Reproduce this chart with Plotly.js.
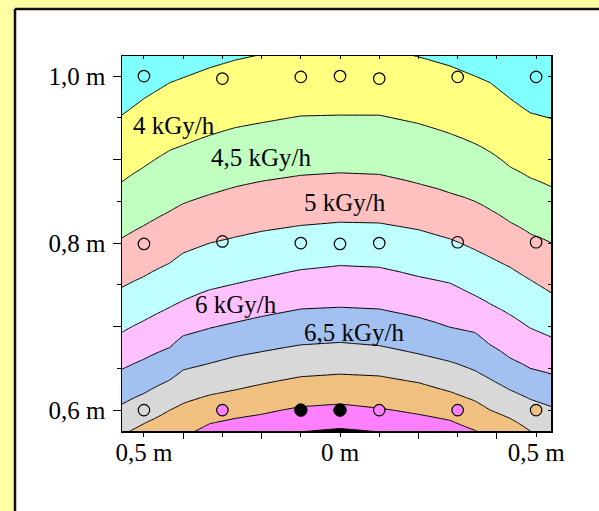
<!DOCTYPE html>
<html><head><meta charset="utf-8">
<script src="https://cdn.plot.ly/plotly-3.0.1.min.js"></script>
<style>html,body{margin:0;padding:0;background:#FFFFA6;}#chart{width:599px;height:511px;}</style>
</head><body><div id="chart"></div>
<script>
const xCols = [-0.56, -0.5, -0.434, -0.4, -0.332, -0.268, -0.2, -0.1, 0, 0.1, 0.2, 0.281, 0.344, 0.383, 0.434, 0.485, 0.54];
// Dose-rate contour levels (kGy/h)
const doseLevels = [4, 4.5, 5, 5.5, 6, 6.5, 7, 7.5, 8, 8.5];
// Height (m) of each contour line at each column
const c40 = [0.952, 0.973, 0.992, 0.998, 1.010, 1.019, 1.026, 1.035, 1.038, 1.035, 1.023, 1.012, 1.000, 0.992, 0.973, 0.956, 0.949];
const c45 = [0.872, 0.891, 0.911, 0.917, 0.929, 0.938, 0.944, 0.952, 0.953, 0.953, 0.943, 0.931, 0.919, 0.909, 0.891, 0.878, 0.867];
const c50 = [0.805, 0.821, 0.838, 0.847, 0.858, 0.867, 0.874, 0.881, 0.884, 0.882, 0.871, 0.860, 0.850, 0.840, 0.825, 0.811, 0.800];
const c55 = [0.746, 0.760, 0.776, 0.788, 0.800, 0.807, 0.814, 0.821, 0.825, 0.824, 0.816, 0.805, 0.792, 0.783, 0.771, 0.756, 0.740];
const c60 = [0.692, 0.707, 0.723, 0.731, 0.744, 0.751, 0.758, 0.768, 0.773, 0.771, 0.760, 0.752, 0.737, 0.727, 0.714, 0.698, 0.687];
const c65 = [0.648, 0.661, 0.675, 0.689, 0.698, 0.705, 0.712, 0.721, 0.723, 0.721, 0.711, 0.699, 0.693, 0.678, 0.662, 0.650, 0.643];
const c70 = [0.606, 0.620, 0.636, 0.648, 0.656, 0.664, 0.670, 0.678, 0.681, 0.677, 0.667, 0.658, 0.647, 0.637, 0.624, 0.613, 0.604];
const c75 = [0.570, 0.584, 0.600, 0.608, 0.618, 0.624, 0.631, 0.640, 0.643, 0.641, 0.633, 0.622, 0.611, 0.600, 0.590, 0.575, 0.558];
const c80 = [0.528, 0.540, 0.557, 0.568, 0.584, 0.590, 0.595, 0.604, 0.607, 0.602, 0.595, 0.588, 0.576, 0.568, 0.557, 0.546, 0.534];
const c85 = [0.492, 0.504, 0.516, 0.528, 0.540, 0.550, 0.558, 0.574, 0.578, 0.574, 0.558, 0.546, 0.534, 0.528, 0.516, 0.504, 0.492];
const crossings = [c40, c45, c50, c55, c60, c65, c70, c75, c80, c85];

// Measurement points
const openX = [-0.5, -0.3, -0.1, 0, 0.1, 0.3, 0.5, -0.5, -0.3, -0.1, 0, 0.1, 0.3, 0.5, -0.5];
const openY = [1.0, 0.997, 0.999, 1.0, 0.997, 0.999, 0.999, 0.799, 0.802, 0.8, 0.799, 0.8, 0.801, 0.801, 0.6];
const magentaX = [-0.3, 0.1, 0.3];
const magentaY = [0.6, 0.6, 0.6];
const orangeX = [0.5];
const orangeY = [0.6];
const blackX = [-0.1, 0];
const blackY = [0.6, 0.6];

// Band labels
const labelText = ['4 kGy/h', '4,5 kGy/h', '5 kGy/h', '6 kGy/h', '6,5 kGy/h'];
const labelX = [-0.423, -0.199, 0.013, -0.265, 0.036];
const labelY = [0.941, 0.903, 0.848, 0.726, 0.693];

// Tick labels
const xTickVals = [-0.5, -0.4, -0.3, -0.2, -0.1, 0, 0.1, 0.2, 0.3, 0.4, 0.5];
const xTickText = ['0,5 m', '', '', '', '', '0 m', '', '', '', '', '0,5 m'];
const yTickVals = [0.6, 0.7, 0.8, 0.9, 1.0];
const yTickText = ['0,6 m', '', '0,8 m', '', '1,0 m'];
const yMinorVals = [0.65, 0.75, 0.85, 0.95];
const yAllVals = [0.6, 0.65, 0.7, 0.75, 0.8, 0.85, 0.9, 0.95, 1.0];

// Band colours (below 4 ... above 8.5)
const bandColors = ['#80FFFF', '#FFFF80', '#C0FFC0', '#FFC0C0', '#C0FFFF', '#FFC0FF', '#A2C0F0', '#D8D8D8', '#F0C080', '#FF80FF', '#000000'];

// Build the z table for the contour trace from the read contour heights
const yGrid = [];
for (let i = 0; i <= 126; i++) yGrid.push(+(0.45 + i * 0.005).toFixed(3));
const z = yGrid.map(y => xCols.map((_, j) => {
  const Y = crossings.map(c => c[j]);
  const n = Y.length;
  if (y >= Y[0]) return doseLevels[0] - 0.5 * (y - Y[0]) / (Y[0] - Y[1]);
  if (y <= Y[n - 1]) return doseLevels[n - 1] + 0.5 * (Y[n - 1] - y) / (Y[n - 2] - Y[n - 1]);
  for (let k = 0; k < n - 1; k++) {
    if (y <= Y[k] && y >= Y[k + 1]) return doseLevels[k] + 0.5 * (Y[k] - y) / (Y[k] - Y[k + 1]);
  }
  return doseLevels[0];
}));

const N = bandColors.length - 1;
const colorscale = [];
bandColors.forEach((c, k) => {
  colorscale.push([Math.max(0, (k - 0.5) / N), c]);
  colorscale.push([Math.min(1, (k + 0.5) / N), c]);
});

const FONT = '"Liberation Serif", "Times New Roman", serif';
const FS = 25;

const traces = [
  {
    type: 'contour', x: xCols, y: yGrid, z: z,
    autocontour: false,
    contours: {start: 4, end: 8.5, size: 0.5, coloring: 'fill', showlines: true},
    line: {color: '#000', width: 1, smoothing: 0},
    colorscale: colorscale, showscale: false, hoverinfo: 'skip'
  },
  {type: 'scatter', mode: 'markers', x: openX, y: openY, hoverinfo: 'skip', showlegend: false,
   marker: {symbol: 'circle', size: 11.5, color: 'rgba(0,0,0,0)', line: {color: '#000', width: 1.2}}},
  {type: 'scatter', mode: 'markers', x: magentaX, y: magentaY, hoverinfo: 'skip', showlegend: false,
   marker: {symbol: 'circle', size: 11.5, color: '#FF80FF', line: {color: '#000', width: 1.2}}},
  {type: 'scatter', mode: 'markers', x: orangeX, y: orangeY, hoverinfo: 'skip', showlegend: false,
   marker: {symbol: 'circle', size: 11.5, color: '#F0C080', line: {color: '#000', width: 1.2}}},
  {type: 'scatter', mode: 'markers', x: blackX, y: blackY, hoverinfo: 'skip', showlegend: false,
   marker: {symbol: 'circle', size: 12.5, color: '#000', line: {color: '#000', width: 1}}},
  {type: 'scatter', mode: 'markers', x: [null], y: [null], xaxis: 'x2', yaxis: 'y2', hoverinfo: 'skip', showlegend: false},
  {type: 'scatter', mode: 'markers', x: [null], y: [null], xaxis: 'x3', yaxis: 'y', hoverinfo: 'skip', showlegend: false}
];

const xr = [-0.556, 0.538], yr = [0.575, 1.024];
const annotations = labelText.map((t, i) => ({
  text: t, x: labelX[i], y: labelY[i], xref: 'x', yref: 'y', showarrow: false,
  xanchor: 'center', yanchor: 'middle', font: {family: FONT, size: FS, color: '#000'}
}));

const px2x = p => (p - 122) / 429, py2y = p => (431 - p) / 375;

const layout = {
  width: 599, height: 511,
  margin: {l: 122, r: 48, t: 56, b: 80, pad: 0},
  paper_bgcolor: '#FFFFA6', plot_bgcolor: '#FFFFFF',
  showlegend: false,
  font: {family: FONT, size: FS, color: '#000'},
  xaxis: {range: xr, tickmode: 'array', tickvals: xTickVals, ticktext: xTickText,
    ticks: 'outside', ticklen: 4, tickwidth: 1, tickcolor: '#000',
    showline: true, linecolor: '#000', linewidth: 1.5, mirror: true,
    showgrid: false, zeroline: false, fixedrange: true, ticklabelstandoff: -6,
    tickfont: {family: FONT, size: FS, color: '#000'}},
  xaxis2: {overlaying: 'x', side: 'top', anchor: 'y', range: xr, matches: 'x',
    tickmode: 'array', tickvals: xTickVals, ticks: 'inside', ticklen: 3, tickcolor: '#000',
    showticklabels: false, showgrid: false, zeroline: false, showline: false, fixedrange: true},
  xaxis3: {overlaying: 'x', side: 'bottom', anchor: 'y', range: xr, matches: 'x',
    tickmode: 'array', tickvals: [-0.4, -0.2, 0.2, 0.4], ticks: 'outside', ticklen: 7, tickcolor: '#000',
    showticklabels: false, showgrid: false, zeroline: false, showline: false, fixedrange: true},
  yaxis: {range: yr, tickmode: 'array', tickvals: yTickVals, ticktext: yTickText,
    ticks: 'outside', ticklen: 8, tickwidth: 1, tickcolor: '#000',
    minor: {tickmode: 'array', tickvals: yMinorVals, ticks: 'outside', ticklen: 4, tickcolor: '#000', showgrid: false},
    showline: true, linecolor: '#000', linewidth: 1.5, mirror: true,
    showgrid: false, zeroline: false, fixedrange: true, ticklabelstandoff: 2,
    tickfont: {family: FONT, size: FS, color: '#000'}},
  yaxis2: {overlaying: 'y', side: 'right', anchor: 'x', range: yr, matches: 'y',
    tickmode: 'array', tickvals: yAllVals, ticks: 'inside', ticklen: 3, tickcolor: '#000',
    showticklabels: false, showgrid: false, zeroline: false, showline: false, fixedrange: true},
  shapes: [
    {type: 'rect', xref: 'paper', yref: 'paper', layer: 'below',
     x0: px2x(15), x1: px2x(640), y0: py2y(560), y1: py2y(9),
     fillcolor: '#FFFFFF', line: {width: 0}},
    {type: 'line', xref: 'paper', yref: 'paper', layer: 'below',
     x0: px2x(15), x1: px2x(640), y0: py2y(9), y1: py2y(9), line: {color: '#111', width: 2.5}},
    {type: 'line', xref: 'paper', yref: 'paper', layer: 'below',
     x0: px2x(15), x1: px2x(15), y0: py2y(9), y1: py2y(560), line: {color: '#111', width: 2.5}}
  ],
  annotations: annotations
};

Plotly.newPlot('chart', traces, layout, {displayModeBar: false, staticPlot: true});
</script></body></html>
